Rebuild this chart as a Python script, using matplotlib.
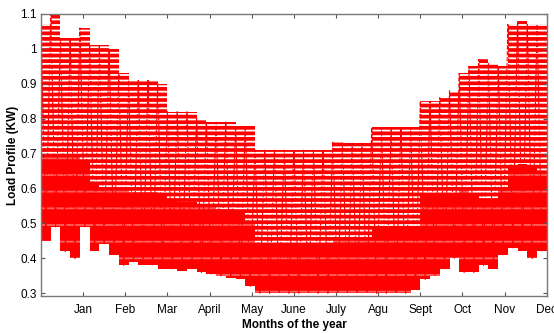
import numpy as np
import matplotlib
matplotlib.use("Agg")
import matplotlib.pyplot as plt

plt.rcParams["font.family"] = ["Liberation Sans", "DejaVu Sans"]
plt.rcParams["hatch.linewidth"] = 1.3

# weekly values (52 weeks), in KW
week_max = [1.07, 1.10, 1.03, 1.03, 1.06, 1.01, 1.01, 1.00, 0.93, 0.91,
            0.91, 0.91, 0.90, 0.82, 0.82, 0.82, 0.80, 0.79, 0.79, 0.79,
            0.78, 0.78, 0.71, 0.71, 0.71, 0.71, 0.71, 0.71, 0.71, 0.71,
            0.735, 0.73, 0.73, 0.73, 0.775, 0.775, 0.775, 0.775, 0.775, 0.85,
            0.85, 0.86, 0.88, 0.93, 0.95, 0.97, 0.96, 0.95, 1.07, 1.08,
            1.07, 1.07]
week_min = [0.45, 0.49, 0.42, 0.40, 0.49, 0.42, 0.44, 0.41, 0.38, 0.39,
            0.38, 0.38, 0.37, 0.37, 0.365, 0.37, 0.36, 0.355, 0.35, 0.345,
            0.34, 0.32, 0.30, 0.30, 0.30, 0.30, 0.30, 0.30, 0.30, 0.30,
            0.30, 0.30, 0.30, 0.30, 0.30, 0.30, 0.30, 0.30, 0.31, 0.34,
            0.35, 0.37, 0.40, 0.36, 0.36, 0.38, 0.37, 0.41, 0.43, 0.42,
            0.40, 0.42]
# top of the dense (night/base load) part of the band
week_base = [0.70, 0.70, 0.70, 0.69, 0.68, 0.62, 0.60, 0.60, 0.60, 0.59,
             0.59, 0.59, 0.58, 0.57, 0.56, 0.56, 0.55, 0.55, 0.54, 0.54,
             0.53, 0.50, 0.445, 0.445, 0.445, 0.445, 0.445, 0.445, 0.445, 0.445,
             0.46, 0.46, 0.46, 0.46, 0.49, 0.49, 0.49, 0.49, 0.49, 0.58,
             0.58, 0.58, 0.58, 0.60, 0.58, 0.57, 0.57, 0.60, 0.66, 0.67,
             0.66, 0.65]

months = ["Jan", "Feb", "Mar", "April", "May", "June", "July", "Agu",
          "Sept", "Oct", "Nov", "Dec"]

n = len(week_max)
edges = np.arange(n + 1) * 12 / n
hi = np.append(week_max, week_max[-1])
lo = np.append(week_min, week_min[-1])
base = np.append(week_base, week_base[-1])

fig = plt.figure(figsize=(5.54, 3.33), dpi=100)
ax = fig.add_axes([0.074, 0.111, 0.913, 0.847])

# daily peaks: red with white dash gaps
ax.fill_between(edges, base, hi, step="post", facecolor="red",
                edgecolor="white", hatch="---", linewidth=0)
# base load part, dense
ax.fill_between(edges, lo, base, step="post", facecolor="red",
                edgecolor="#ff6060", hatch="-", linewidth=0)

# zigzag of the weekly extremes, dashed like the original
zx = np.repeat(edges[:-1], 2) + np.tile([0.0, 0.5], n) * 12 / n
zy = np.ravel(np.column_stack([week_max, week_min]))
ax.plot(zx, zy, color="red", linestyle="--", linewidth=0.8)

ax.set_xlim(0, 12)
ax.set_ylim(0.292, 1.1)
ax.set_xticks(np.arange(1, 13))
ax.set_xticklabels(months)
ax.set_yticks([0.3, 0.4, 0.5, 0.6, 0.7, 0.8, 0.9, 1.0, 1.1])
ax.set_yticklabels(["0.3", "0.4", "0.5", "0.6", "0.7", "0.8", "0.9", "1", "1.1"])
ax.tick_params(direction="in", top=True, right=True, length=3,
               labelsize=8.5, color="#555555", pad=3)
ax.tick_params(axis="x", pad=6)
for s in ax.spines.values():
    s.set_color("#777777")
    s.set_linewidth(1)

ax.set_xlabel("Months of the year", fontsize=8.5, fontweight="bold", labelpad=2)
ax.set_ylabel("Load Profile (KW)", fontsize=8.5, fontweight="bold", labelpad=1)

fig.savefig("out.png", dpi=100)
